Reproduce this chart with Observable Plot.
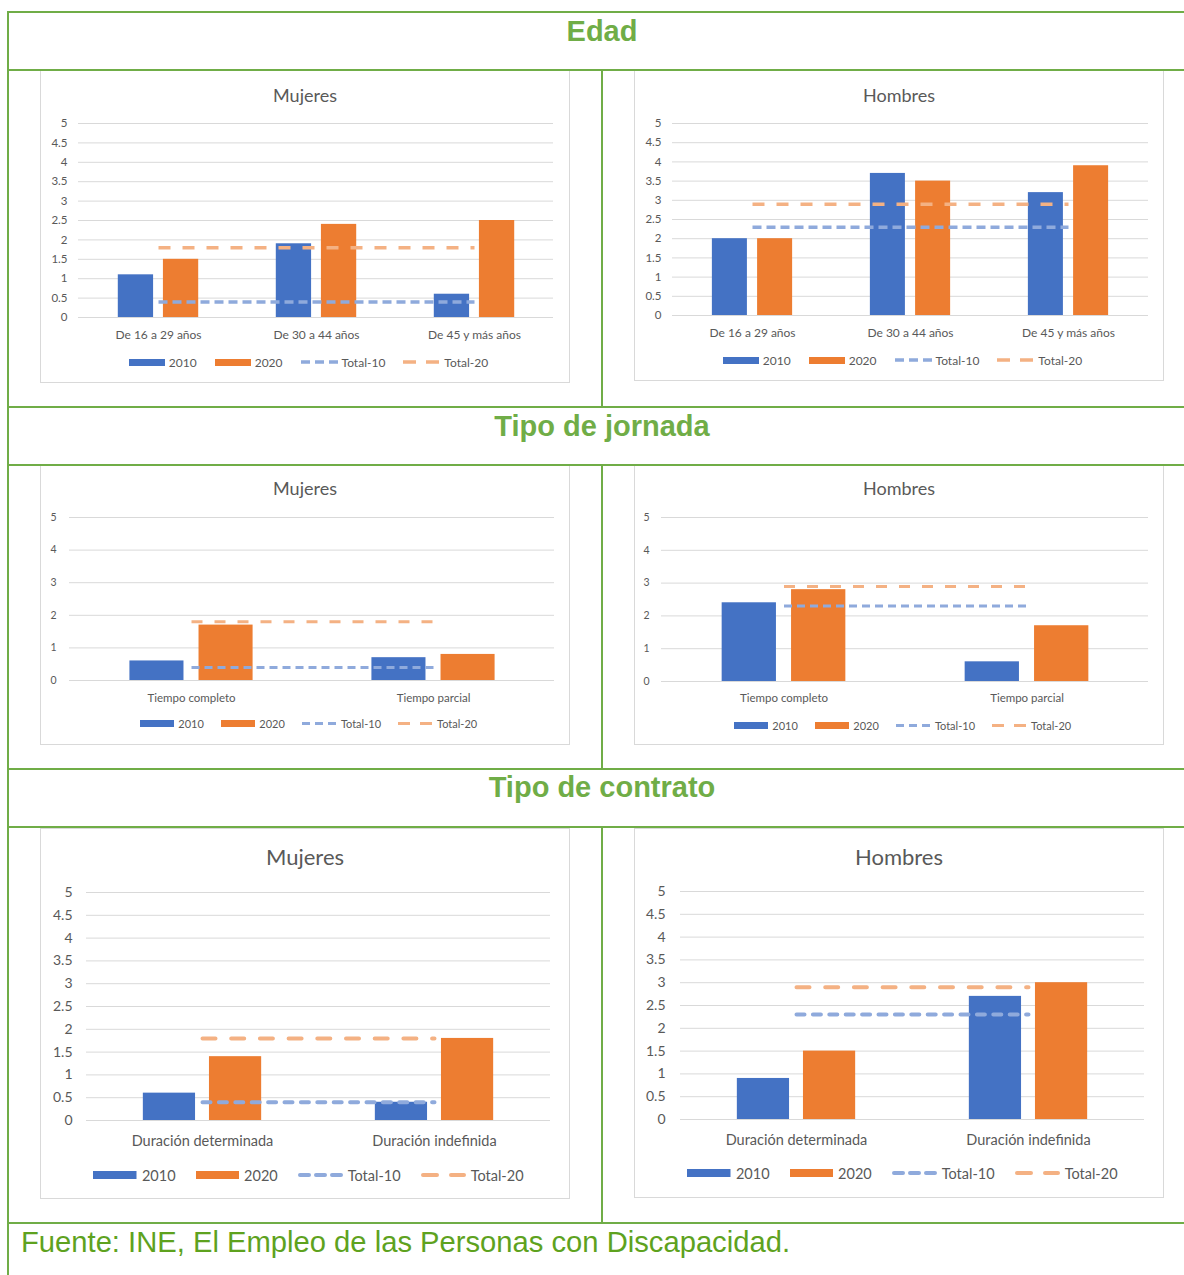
<!DOCTYPE html>
<html>
<head>
<meta charset="utf-8">
<script src="https://cdn.jsdelivr.net/npm/d3@7"></script>
<script src="https://cdn.jsdelivr.net/npm/@observablehq/plot@0.6"></script>
<style>
  html, body { margin: 0; padding: 0; background: #fff; }
  #page { position: relative; width: 1184px; height: 1275px; overflow: hidden; background: #fff; }
  .gline { position: absolute; background: #70AD47; }
  .hdr { position: absolute; left: 8px; width: 1188px; text-align: center; font-family: "Liberation Sans", Arial, sans-serif; font-weight: bold; color: #70AD47; }
  .box { position: absolute; outline: 1px solid #d9d9d9; outline-offset: -1px; background: #fff; }
  .ttl { position: absolute; left: 0; width: 100%; text-align: center; color: #595959; white-space: nowrap; }
  .leg { position: absolute; left: 0; width: 100%; display: flex; justify-content: center; align-items: center; color: #595959; white-space: nowrap; }
  .leg svg { display: block; }
</style>
</head>
<body>
<div id="page"></div>
<script>
// ---------------- DATA ----------------
const sectionTitles = ["Edad", "Tipo de jornada", "Tipo de contrato"];
const panelTitles = ["Mujeres", "Hombres"];
const seriesLabels = ["2010", "2020", "Total-10", "Total-20"];
const fuente = "Fuente: INE, El Empleo de las Personas con Discapacidad.";

const edadCategorias = ["De 16 a 29 años", "De 30 a 44 años", "De 45 y más años"];
const jornadaCategorias = ["Tiempo completo", "Tiempo parcial"];
const contratoCategorias = ["Duración determinada", "Duración indefinida"];

const edadMujeres2010 = [1.1, 1.9, 0.6];
const edadMujeres2020 = [1.5, 2.4, 2.5];
const edadHombres2010 = [2.0, 3.7, 3.2];
const edadHombres2020 = [2.0, 3.5, 3.9];

const jornadaMujeres2010 = [0.6, 0.7];
const jornadaMujeres2020 = [1.7, 0.8];
const jornadaHombres2010 = [2.4, 0.6];
const jornadaHombres2020 = [2.8, 1.7];

const contratoMujeres2010 = [0.6, 0.4];
const contratoMujeres2020 = [1.4, 1.8];
const contratoHombres2010 = [0.9, 2.7];
const contratoHombres2020 = [1.5, 3.0];

const totalMujeres10 = 0.4, totalMujeres20 = 1.8;
const totalHombres10 = 2.3, totalHombres20 = 2.9;

const ticksMedio = [0, 0.5, 1, 1.5, 2, 2.5, 3, 3.5, 4, 4.5, 5];
const ticksEntero = [0, 1, 2, 3, 4, 5];

// ---------------- STYLE ----------------
const C2010 = "#4472C4", C2020 = "#ED7D31", CT10 = "#8FAADC", CT20 = "#F4B183";

const row1 = {font: "Lato, 'Noto Sans', sans-serif", title: 18, tick: 11.5, xlab: 12, leg: 12,
  sw: 36, swh: 7, lsw: 37, lw: 3.5, d10: "9,5", d20: "12,12", ld10: "9,5", ld20: "13,10", cap: "butt", tgap: 4, igap: 18};
const row2 = {font: "Lato, 'Noto Sans', sans-serif", title: 18, tick: 10.5, xlab: 11.5, leg: 11,
  sw: 34.5, swh: 7, lsw: 35, lw: 3, d10: "8,5", d20: "11,12", ld10: "8,5", ld20: "12,10", cap: "butt", tgap: 4, igap: 17};
const row3 = {font: "Lato, 'Noto Sans', sans-serif", title: 22, tick: 14, xlab: 14.5, leg: 14.5,
  sw: 43.5, swh: 8, lsw: 45, lw: 4, d10: "8,8.4", d20: "13,15.7", ld10: "9,7", ld20: "14,14", cap: "round", tgap: 5, igap: 20};

const page = document.getElementById("page");

function drawChart(cfg, st) {
  const [bx, by, bw, bh] = cfg.box;
  const [gx1, gx2, gy5, gy0] = cfg.grid;
  const box = document.createElement("div");
  box.className = "box";
  box.style.cssText = `left:${bx}px;top:${by}px;width:${bw}px;height:${bh}px;font-family:${st.font};`;
  page.appendChild(box);

  // title
  const t = document.createElement("div");
  t.className = "ttl";
  t.textContent = cfg.title;
  t.style.cssText = `top:${cfg.titleY - by - 15}px;height:30px;line-height:30px;font-size:${st.title}px;`;
  box.appendChild(t);

  // plot
  const svgTop = gy5 - 14;
  const svgBottom = cfg.legendY - 11;
  const height = svgBottom - svgTop;
  const marginTop = gy5 - svgTop;
  const marginBottom = svgBottom - gy0;
  const marginLeft = gx1 - bx;
  const marginRight = bx + bw - gx2;
  const n = cfg.cats.length;
  const W = (gx2 - gx1) / n;
  const outer = 0.245 * W, barW = 0.225 * W, gap = 0.06 * W;
  const rows = cfg.cats.map((c, i) => ({cat: c, v10: cfg.v10[i], v20: cfg.v20[i], t10: cfg.t10, t20: cfg.t20}));

  const plot = Plot.plot({
    width: bw, height, marginTop, marginBottom, marginLeft, marginRight,
    style: {fontFamily: st.font, color: "#595959", background: "transparent", overflow: "visible"},
    x: {type: "band", domain: cfg.cats, padding: 0},
    y: {domain: [0, 5]},
    marks: [
      Plot.gridY(cfg.ticks, {stroke: "#d9d9d9", strokeOpacity: 1, strokeWidth: 1}),
      Plot.barY(rows, {x: "cat", y: "v10", fill: C2010, insetLeft: outer, insetRight: W - outer - barW}),
      Plot.barY(rows, {x: "cat", y: "v20", fill: C2020, insetLeft: outer + barW + gap, insetRight: W - outer - 2 * barW - gap}),
      Plot.lineY(rows, {x: "cat", y: "t10", stroke: CT10, strokeWidth: st.lw, strokeDasharray: st.d10, strokeLinecap: st.cap}),
      Plot.lineY(rows, {x: "cat", y: "t20", stroke: CT20, strokeWidth: st.lw, strokeDasharray: st.d20, strokeLinecap: st.cap}),
      Plot.axisY(cfg.ticks, {tickSize: 0, tickPadding: cfg.ypad, fontSize: st.tick, tickFormat: d => String(d), label: null}),
      Plot.axisX({tickSize: 0, tickPadding: cfg.xpad, fontSize: st.xlab, label: null})
    ]
  });
  plot.style.position = "absolute";
  plot.style.left = "0px";
  plot.style.top = (svgTop - by) + "px";
  box.appendChild(plot);

  // legend
  const lg = document.createElement("div");
  lg.className = "leg";
  lg.style.cssText = `top:${cfg.legendY - by - 11}px;height:22px;font-size:${st.leg}px;padding-left:7px;box-sizing:border-box;`;
  const ns = "http://www.w3.org/2000/svg";
  seriesLabels.forEach((lab, i) => {
    const s = document.createElementNS(ns, "svg");
    const isBar = i < 2;
    const w = isBar ? st.sw : st.lsw;
    const h = isBar ? st.swh : Math.ceil(st.lw) + 2;
    s.setAttribute("width", w);
    s.setAttribute("height", h);
    if (isBar) {
      const r = document.createElementNS(ns, "rect");
      r.setAttribute("width", w); r.setAttribute("height", h);
      r.setAttribute("fill", i === 0 ? C2010 : C2020);
      s.appendChild(r);
    } else {
      const l = document.createElementNS(ns, "line");
      const c = st.cap === "round" ? st.lw / 2 : 0;
      l.setAttribute("x1", c); l.setAttribute("x2", w - c);
      l.setAttribute("y1", h / 2); l.setAttribute("y2", h / 2);
      l.setAttribute("stroke", i === 2 ? CT10 : CT20);
      l.setAttribute("stroke-width", st.lw);
      l.setAttribute("stroke-linecap", st.cap);
      l.setAttribute("stroke-dasharray", i === 2 ? st.ld10 : st.ld20);
      s.appendChild(l);
    }
    lg.appendChild(s);
    const sp = document.createElement("span");
    sp.textContent = lab;
    sp.style.marginLeft = st.tgap + "px";
    if (i < 3) sp.style.marginRight = st.igap + "px";
    lg.appendChild(sp);
  });
  box.appendChild(lg);
}

const charts = [
  {st: row1, cfg: {title: panelTitles[0], cats: edadCategorias, v10: edadMujeres2010, v20: edadMujeres2020, t10: totalMujeres10, t20: totalMujeres20, ticks: ticksMedio,
    box: [40, 70, 530, 313], grid: [78, 553, 123, 317], titleY: 95, legendY: 362, xpad: 12.8, ypad: 11}},
  {st: row1, cfg: {title: panelTitles[1], cats: edadCategorias, v10: edadHombres2010, v20: edadHombres2020, t10: totalHombres10, t20: totalHombres20, ticks: ticksMedio,
    box: [634, 70, 530, 311], grid: [672, 1148, 123, 315], titleY: 95, legendY: 360, xpad: 12.8, ypad: 11}},
  {st: row2, cfg: {title: panelTitles[0], cats: jornadaCategorias, v10: jornadaMujeres2010, v20: jornadaMujeres2020, t10: totalMujeres10, t20: totalMujeres20, ticks: ticksEntero,
    box: [40, 465, 530, 280], grid: [69, 554, 517, 680], titleY: 488, legendY: 723, xpad: 13, ypad: 13}},
  {st: row2, cfg: {title: panelTitles[1], cats: jornadaCategorias, v10: jornadaHombres2010, v20: jornadaHombres2020, t10: totalHombres10, t20: totalHombres20, ticks: ticksEntero,
    box: [634, 465, 530, 280], grid: [661, 1148, 517, 681], titleY: 488, legendY: 725, xpad: 12, ypad: 12}},
  {st: row3, cfg: {title: panelTitles[0], cats: contratoCategorias, v10: contratoMujeres2010, v20: contratoMujeres2020, t10: totalMujeres10, t20: totalMujeres20, ticks: ticksMedio,
    box: [40, 828, 530, 371], grid: [86, 550, 892, 1120], titleY: 857, legendY: 1175, xpad: 14.9, ypad: 14}},
  {st: row3, cfg: {title: panelTitles[1], cats: contratoCategorias, v10: contratoHombres2010, v20: contratoHombres2020, t10: totalHombres10, t20: totalHombres20, ticks: ticksMedio,
    box: [634, 828, 530, 370], grid: [680, 1144, 891, 1119], titleY: 857, legendY: 1173, xpad: 14.9, ypad: 15}}
];
charts.forEach(c => drawChart(c.cfg, c.st));

// ---------------- TABLE FRAME ----------------
function gline(x, y, w, h) {
  const d = document.createElement("div");
  d.className = "gline";
  d.style.cssText = `left:${x}px;top:${y}px;width:${w}px;height:${h}px;`;
  page.appendChild(d);
}
[11, 69, 406, 464, 768, 826, 1222].forEach(y => gline(7, y, 1190, 2));
gline(7, 11, 2, 1270);
gline(601, 69, 2, 339);
gline(601, 464, 2, 306);
gline(601, 826, 2, 398);

// section headers
[[sectionTitles[0], 31], [sectionTitles[1], 426], [sectionTitles[2], 787]].forEach(([txt, y]) => {
  const h = document.createElement("div");
  h.className = "hdr";
  h.textContent = txt;
  h.style.cssText = `top:${y - 20}px;height:40px;line-height:40px;font-size:29px;`;
  page.appendChild(h);
});

// source
const f = document.createElement("div");
f.textContent = fuente;
f.style.cssText = `position:absolute;left:21px;top:${1242 - 20}px;height:40px;line-height:40px;font-size:29.2px;font-family:'Liberation Sans', Arial, sans-serif;color:#5EA21E;white-space:nowrap;`;
page.appendChild(f);
</script>
</body>
</html>
